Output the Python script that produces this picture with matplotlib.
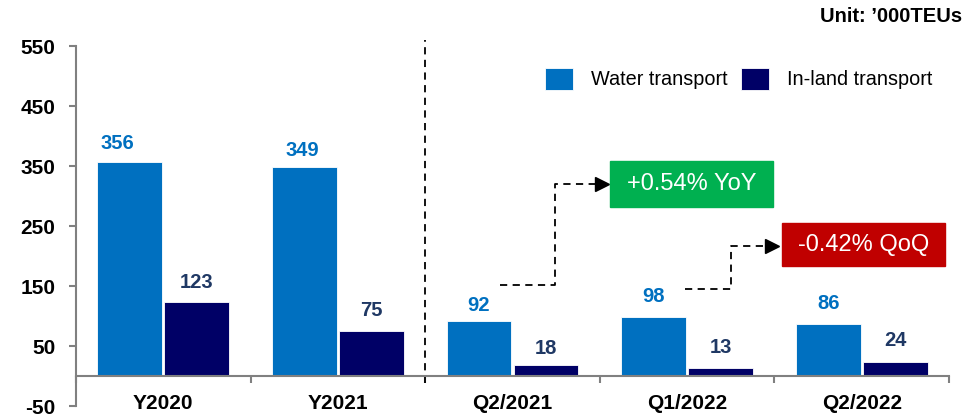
import matplotlib.pyplot as plt
import numpy as np

plt.rcParams['font.family'] = ['Liberation Sans', 'DejaVu Sans']

categories = ['Y2020', 'Y2021', 'Q2/2021', 'Q1/2022', 'Q2/2022']
water = [356, 349, 92, 98, 86]
inland = [123, 75, 18, 13, 24]
yticks = [-50, 50, 150, 250, 350, 450, 550]

water_color = '#0070C0'
inland_color = '#000066'
inland_label = '#1F3864'
axis_gray = '#808080'

# value label nudges (pixels), as placed in the original
water_dx = [-12, -2, 0, 0, 0]
water_dy = [19, 16, 15, 21, 21]
inland_dy = [20, 20, 17, 21, 21]

x = np.arange(len(categories))
bw = 0.372
gap = 0.006

fig = plt.figure(figsize=(9.75, 4.17), dpi=100)
ax = fig.add_axes([76 / 975, 11 / 417, 873 / 975, 360 / 417])

b1 = ax.bar(x + 0.5 - bw / 2 - gap, water, bw, color=water_color,
            edgecolor='white', linewidth=0.6, label='Water transport')
b2 = ax.bar(x + 0.5 + bw / 2 + gap, inland, bw, color=inland_color,
            edgecolor='white', linewidth=0.6, label='In-land transport')

for rect, v, dx, dy in zip(b1, water, water_dx, water_dy):
    ax.annotate(str(v), (rect.get_x() + rect.get_width() / 2, v),
                xytext=(dx, dy), textcoords='offset pixels', ha='center',
                va='center', fontsize=14.5, fontweight='bold',
                color=water_color)
for rect, v, dy in zip(b2, inland, inland_dy):
    ax.annotate(str(v), (rect.get_x() + rect.get_width() / 2, v),
                xytext=(0, dy), textcoords='offset pixels', ha='center',
                va='center', fontsize=14.5, fontweight='bold',
                color=inland_label)

ax.set_xlim(0, len(categories))
ax.set_ylim(-50, 550)
ax.set_yticks(yticks)
ax.set_yticklabels([str(t) for t in yticks], fontsize=15, fontweight='bold')
ax.set_xticks(np.arange(len(categories) + 1))
ax.set_xticklabels([])
ax.tick_params(axis='both', direction='out', length=5, width=1.5,
               color=axis_gray, pad=10)

for s in ('top', 'right'):
    ax.spines[s].set_visible(False)
ax.spines['left'].set_color(axis_gray)
ax.spines['left'].set_linewidth(1.5)
ax.spines['bottom'].set_position(('data', 0))
ax.spines['bottom'].set_color(axis_gray)
ax.spines['bottom'].set_linewidth(1.5)

for c, lab in zip(x + 0.5, categories):
    ax.text(c, -46, lab, ha='center', va='center', fontsize=15,
            fontweight='bold', clip_on=False)

# separator between annual and quarterly figures
ax.plot([2, 2], [-12, 560], color='black', lw=1.3,
        ls=(0, (4, 3)), clip_on=False)


# change call-outs
def callout(xs, ys, box_x, box_y, text, color):
    ax.plot(xs, ys, color='black', lw=1.3, ls=(0, (4, 3)), clip_on=False)
    ax.plot(xs[-1], ys[-1], marker='>', color='black', markersize=10,
            clip_on=False)
    ax.add_patch(plt.Rectangle((box_x[0], box_y[0]), box_x[1] - box_x[0],
                               box_y[1] - box_y[0], color=color,
                               clip_on=False, zorder=3))
    ax.text((box_x[0] + box_x[1]) / 2, (box_y[0] + box_y[1]) / 2, text,
            ha='center', va='center', color='white', fontsize=17,
            zorder=4, clip_on=False)


callout([2.428, 2.743, 2.743, 3.01], [151.2, 151.2, 320.5, 320.5],
        (3.058, 3.992), (281.7, 358.3), '+0.54% YoY', '#00B050')
callout([3.488, 3.750, 3.750, 3.985], [145.5, 145.5, 217.2, 217.2],
        (4.044, 4.977), (183, 255), '-0.42% QoQ', '#C00000')

ax.legend(ncol=2, frameon=False, loc='upper left',
          bbox_to_anchor=(545 / 975, 1 - 68 / 417),
          bbox_transform=fig.transFigure, borderaxespad=0, borderpad=0,
          fontsize=14.3, handlelength=1.4, handleheight=1.3,
          handletextpad=0.9, columnspacing=0.7)

fig.text(962 / 975, 1 - 17 / 417, 'Unit: \u2019000TEUs', ha='right',
         va='center', fontsize=14.5, fontweight='bold')

plt.savefig('out.png', dpi=100)
